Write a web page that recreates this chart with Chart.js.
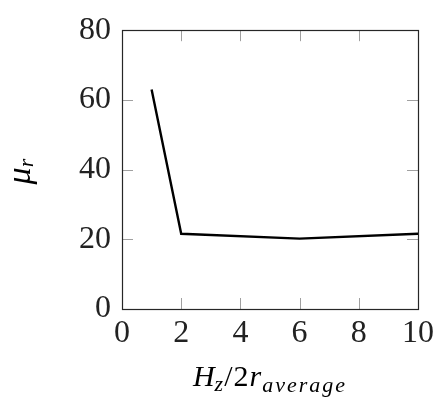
<!DOCTYPE html>
<html><head><meta charset="utf-8">
<script src="https://cdn.jsdelivr.net/npm/chart.js@4"></script>
<style>html,body{margin:0;padding:0;background:#fff;}</style>
</head><body>
<canvas id="c" width="434" height="401" style="display:block"></canvas>
<script>
const ratios = [1, 2, 6, 10];
const mu = [63, 21.6, 20.2, 21.6];
const xTickValues = [0, 2, 4, 6, 8, 10];
const yTickValues = [0, 20, 40, 60, 80];

const SERIF = '"Liberation Serif", "Times New Roman", serif';
const TICK_LEN = 11;

const frameAndTicks = {
  id: 'frameAndTicks',
  beforeDatasetsDraw(chart) {
    const {ctx, chartArea: a, scales: {x, y}} = chart;
    ctx.save();
    ctx.strokeStyle = '#a0a0a0';
    ctx.lineWidth = 1;
    ctx.beginPath();
    xTickValues.forEach(v => {
      const px = Math.round(x.getPixelForValue(v)) + 0.5;
      ctx.moveTo(px, a.bottom); ctx.lineTo(px, a.bottom - TICK_LEN);
      ctx.moveTo(px, a.top); ctx.lineTo(px, a.top + TICK_LEN);
    });
    yTickValues.forEach(v => {
      const py = Math.round(y.getPixelForValue(v)) + 0.5;
      ctx.moveTo(a.left, py); ctx.lineTo(a.left + TICK_LEN, py);
      ctx.moveTo(a.right, py); ctx.lineTo(a.right - TICK_LEN, py);
    });
    ctx.stroke();
    ctx.strokeStyle = '#262626';
    ctx.lineWidth = 1.2;
    ctx.strokeRect(Math.round(a.left) + 0.5, Math.round(a.top) + 0.5,
                   Math.round(a.right - a.left), Math.round(a.bottom - a.top));
    ctx.restore();
  },
  afterDraw(chart) {
    const {ctx, chartArea: a} = chart;
    ctx.save();
    ctx.fillStyle = '#000';
    ctx.textBaseline = 'alphabetic';
    // x-axis title: H_z / 2 r_average
    const parts = [
      {t: 'H', f: `italic 30px ${SERIF}`, dy: 0, ls: 0},
      {t: 'z', f: `italic 22px ${SERIF}`, dy: 5, ls: 1},
      {t: '/2', f: `30px ${SERIF}`, dy: 0, ls: 1},
      {t: 'r', f: `italic 30px ${SERIF}`, dy: 0, ls: 1},
      {t: 'average', f: `italic 22px ${SERIF}`, dy: 6, ls: 2}
    ];
    let total = 0;
    parts.forEach(p => {
      ctx.font = p.f; ctx.letterSpacing = p.ls + 'px';
      p.w = ctx.measureText(p.t).width; total += p.w;
    });
    let cx = (a.left + a.right) / 2 - total / 2;
    const base = 386;
    parts.forEach(p => {
      ctx.font = p.f; ctx.letterSpacing = p.ls + 'px';
      ctx.fillText(p.t, cx, base + p.dy); cx += p.w;
    });
    ctx.letterSpacing = '0px';
    // y-axis title: mu_r rotated
    ctx.translate(29.5, (a.top + a.bottom) / 2 + 2);
    ctx.rotate(-Math.PI / 2);
    const yparts = [
      {t: 'μ', f: `italic 34px ${SERIF}`, dy: 0},
      {t: 'r', f: `italic 22px ${SERIF}`, dy: 3}
    ];
    let tw = 0;
    yparts.forEach(p => { ctx.font = p.f; p.w = ctx.measureText(p.t).width; tw += p.w; });
    let ux = -tw / 2;
    yparts.forEach(p => { ctx.font = p.f; ctx.fillText(p.t, ux, p.dy); ux += p.w; });
    ctx.restore();
  }
};

new Chart(document.getElementById('c'), {
  type: 'line',
  data: {
    datasets: [{
      data: ratios.map((r, i) => ({x: r, y: mu[i]})),
      borderColor: '#000',
      borderWidth: 2.4,
      pointRadius: 0,
      tension: 0,
      fill: false
    }]
  },
  options: {
    responsive: false,
    animation: false,
    devicePixelRatio: 1,
    layout: {padding: {top: 21, right: 16, left: 0, bottom: 0}},
    plugins: {legend: {display: false}, tooltip: {enabled: false}},
    scales: {
      x: {
        type: 'linear', min: 0, max: 10,
        afterBuildTicks: s => { s.ticks = xTickValues.map(v => ({value: v})); },
        afterFit: s => { s.height = 92; s.paddingRight = 16; s.paddingLeft = 0; },
        grid: {display: false, drawTicks: false},
        border: {display: false},
        ticks: {autoSkip: false, maxRotation: 0, padding: 5, color: '#222',
                font: {family: SERIF, size: 32}}
      },
      y: {
        type: 'linear', min: 0, max: 80,
        afterBuildTicks: s => { s.ticks = yTickValues.map(v => ({value: v})); },
        afterFit: s => { s.width = 122; },
        grid: {display: false, drawTicks: false},
        border: {display: false},
        ticks: {autoSkip: false, padding: 11, color: '#222',
                font: {family: SERIF, size: 32}}
      }
    }
  },
  plugins: [frameAndTicks]
});
</script>
</body></html>
